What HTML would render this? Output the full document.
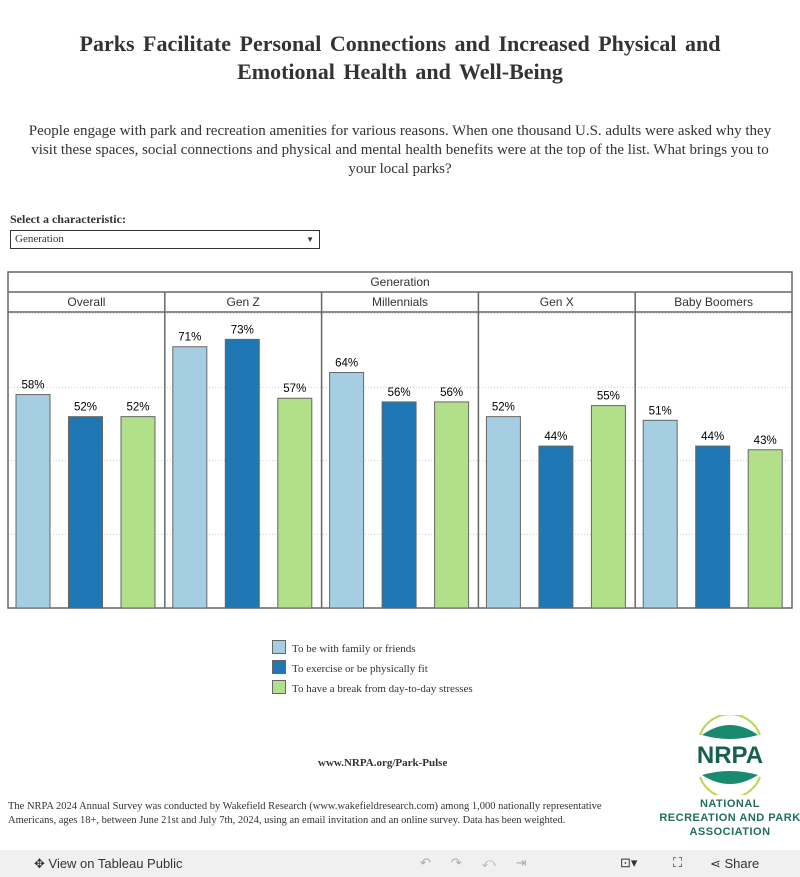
<!DOCTYPE html>
<html><head><meta charset="utf-8"><style>
body{margin:0;width:800px;height:877px;background:#fff;position:relative;overflow:hidden;font-family:"Liberation Serif",serif;color:#333}
.abs{position:absolute}
h1{position:absolute;left:0;top:30px;width:800px;margin:0;text-align:center;font-size:22px;line-height:28px;font-weight:bold;color:#333;word-spacing:3px}
.sub{left:25px;top:122px;width:750px;text-align:center;font-size:15px;line-height:19px}
.sans{font-family:"Liberation Sans",sans-serif}
</style></head><body>
<h1>Parks Facilitate Personal Connections and Increased Physical and<br>Emotional Health and Well-Being</h1>
<div class="abs sub">People engage with park and recreation amenities for various reasons. When one thousand U.S. adults were asked why they visit these spaces, social connections and physical and mental health benefits were at the top of the list. What brings you to your local parks?</div>
<div class="abs" style="left:10px;top:212px;font-size:12px;font-weight:bold">Select a characteristic:</div>
<div class="abs" style="left:10px;top:230px;font-size:11px;line-height:17px;padding-left:4px;box-sizing:border-box;width:310px;height:19px;border:1px solid #333">Generation<span style="position:absolute;right:5px;top:0;font-size:8px">▼</span></div>
<svg class="abs" style="left:0;top:0" width="800" height="877" id="chart"></svg>
<div class="abs" style="left:272px;top:639px;font-size:11px;line-height:20px">
<div><span style="display:inline-block;width:12px;height:12px;background:#a6cee3;border:1px solid #666;vertical-align:-2px;margin-right:6px"></span>To be with family or friends</div>
<div><span style="display:inline-block;width:12px;height:12px;background:#1f78b4;border:1px solid #666;vertical-align:-2px;margin-right:6px"></span>To exercise or be physically fit</div>
<div><span style="display:inline-block;width:12px;height:12px;background:#b2df8a;border:1px solid #666;vertical-align:-2px;margin-right:6px"></span>To have a break from day-to-day stresses</div>
</div>
<div class="abs" style="left:318px;top:757px;font-size:11px;font-weight:bold">www.NRPA.org/Park-Pulse</div>
<div class="abs" style="left:8px;top:800px;width:640px;font-size:10.5px;line-height:14px">The NRPA 2024 Annual Survey was conducted by Wakefield Research (www.wakefieldresearch.com) among 1,000 nationally representative Americans, ages 18+, between June 21st and July 7th, 2024, using an email invitation and an online survey. Data has been weighted.</div>
<svg class="abs" style="left:680px;top:715px" width="100" height="80">
<path d="M20 20 A32 32 0 0 1 80 20" fill="none" stroke="#b8d84a" stroke-width="2"/>
<path d="M20 62 A32 32 0 0 0 80 62" fill="none" stroke="#b8d84a" stroke-width="2"/>
<path d="M22 20 Q50 0 78 20 Q50 28 22 20Z" fill="#1a8a6e"/>
<path d="M22 60 Q50 52 78 60 Q50 78 22 60Z" fill="#1a8a6e"/>
<text x="50" y="48" text-anchor="middle" font-family="Liberation Sans" font-size="24" font-weight="bold" fill="#17604f">NRPA</text>
</svg>
<div class="abs sans" style="left:680px;top:797px;width:100px;text-align:center;font-size:11px;font-weight:bold;color:#1f6e5e;line-height:14px;letter-spacing:0.5px">NATIONAL<br><span style="margin-left:-30px;margin-right:-30px;white-space:nowrap">RECREATION AND PARK</span><br>ASSOCIATION</div>
<div class="abs sans" style="left:0;top:850px;width:800px;height:27px;background:#f0f0f0;font-size:13px;color:#333">
<span class="abs" style="left:34px;top:6px">✥ View on Tableau Public</span>
<span class="abs" style="left:420px;top:5px;color:#aaa;letter-spacing:20px">↶↷⤺⇥</span>
<span class="abs" style="left:620px;top:5px">⊡▾</span>
<span class="abs" style="left:673px;top:5px">⛶</span>
<span class="abs" style="left:710px;top:6px">⋖ Share</span>
</div>
<script>
const groups=["Overall","Gen Z","Millennials","Gen X","Baby Boomers"];
const family=[58,71,64,52,51];
const exercise=[52,73,56,44,44];
const breakStress=[52,57,56,55,43];
const gridTicks=[20,40,60,80];
const svg=document.getElementById('chart');const NS="http://www.w3.org/2000/svg";
function mk(t,a){const e=document.createElementNS(NS,t);for(const k in a)e.setAttribute(k,a[k]);svg.appendChild(e);return e;}
const L=8,R=792,T=272,B=608,gw=(R-L)/groups.length;
const y=v=>B-v*3.68;
gridTicks.forEach(t=>{const g=mk('line',{x1:L,x2:R,y1:y(t),y2:y(t),stroke:'#ccc','stroke-dasharray':'1,2'});});
mk('rect',{x:L,y:T,width:R-L,height:B-T,fill:'none',stroke:'#666','stroke-width':1.5});
mk('line',{x1:L,x2:R,y1:292,y2:292,stroke:'#666','stroke-width':1.5});
mk('line',{x1:L,x2:R,y1:312,y2:312,stroke:'#666','stroke-width':1.5});
const gt=mk('text',{x:400,y:286,'text-anchor':'middle','font-family':'Liberation Sans','font-size':12,fill:'#333'});gt.textContent='Generation';

const series=[[family,'#a6cee3'],[exercise,'#1f78b4'],[breakStress,'#b2df8a']];
groups.forEach((g,i)=>{const gx=L+i*gw;
 if(i>0)mk('line',{x1:gx,x2:gx,y1:292,y2:B,stroke:'#666','stroke-width':1.5});
 const t=mk('text',{x:gx+gw/2,y:306,'text-anchor':'middle','font-family':'Liberation Sans','font-size':12,fill:'#333'});t.textContent=g;
 
 series.forEach((s,j)=>{const v=s[0][i];const bx=gx+8+j*52.5;
  const r=mk('rect',{x:bx,y:y(v),width:34,height:B-y(v),fill:s[1],stroke:'#666','stroke-width':1});
  
  const l=mk('text',{x:bx+17,y:y(v)-6,'text-anchor':'middle','font-family':'Liberation Sans','font-size':11.5,fill:'#000'});l.textContent=v+'%';
  
 });
});
</script>
</body></html>
